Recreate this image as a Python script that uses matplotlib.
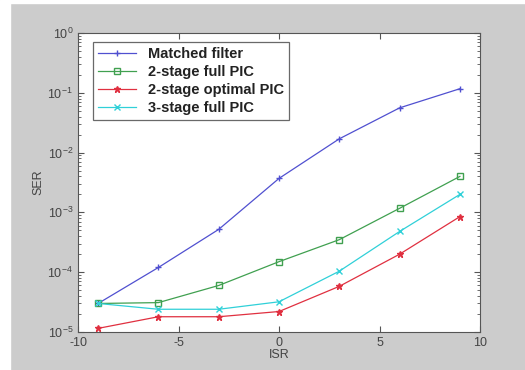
import numpy as np
import matplotlib
matplotlib.use('Agg')
import matplotlib.pyplot as plt
from matplotlib.patches import Rectangle

isr = [-9, -6, -3, 0, 3, 6, 9]
matched_filter = [3.0e-5, 1.2e-4, 5.2e-4, 3.7e-3, 1.7e-2, 5.6e-2, 1.17e-1]
full_pic_2 = [3.0e-5, 3.1e-5, 6.0e-5, 1.5e-4, 3.5e-4, 1.17e-3, 4.0e-3]
optimal_pic_2 = [1.15e-5, 1.8e-5, 1.8e-5, 2.2e-5, 5.8e-5, 2.0e-4, 8.5e-4]
full_pic_3 = [3.0e-5, 2.4e-5, 2.4e-5, 3.2e-5, 1.04e-4, 4.8e-4, 2.0e-3]

series = [
    ('Matched filter', matched_filter, '#5050d0', '+'),
    ('2-stage full PIC', full_pic_2, '#40a050', 's'),
    ('2-stage optimal PIC', optimal_pic_2, '#e03040', '*'),
    ('3-stage full PIC', full_pic_3, '#30d0d8', 'x'),
]

plt.rcParams['font.family'] = ['Liberation Sans', 'DejaVu Sans']
fig = plt.figure(figsize=(5.25, 3.7), dpi=100, facecolor='#cccccc')
# thin white border on top/left like the scanned original
fig.add_artist(Rectangle((0, 0), 10 / 525, 1, transform=fig.transFigure, color='white', zorder=-1))
fig.add_artist(Rectangle((0, 1 - 3 / 370), 1, 3 / 370, transform=fig.transFigure, color='white', zorder=-1))

ax = fig.add_axes([78 / 525, 38 / 370, 402 / 525, 299 / 370])
ax.set_facecolor('white')

for label, vals, color, marker in series:
    mfc = 'none' if marker == 's' else color
    ax.semilogy(isr, vals, color=color, marker=marker, markersize=5, linewidth=0.9,
                markerfacecolor=mfc, label=label)

ax.set_xlim(-10, 10)
ax.set_ylim(1e-5, 1e0)
ax.set_xticks([-10, -5, 0, 5, 10])
ax.set_xticklabels(['-10', '-5', '0', '5', '10'])
ax.tick_params(which='both', direction='in', top=True, right=True, colors='#555555',
               labelcolor='#444444', labelsize=9)
ax.tick_params(which='major', length=4)
ax.tick_params(which='minor', length=2)
for s in ax.spines.values():
    s.set_color('#555555')

ax.set_xlabel('ISR', fontsize=9, color='#444444', labelpad=0)
ax.set_ylabel('SER', fontsize=9, color='#444444', labelpad=2)

leg = ax.legend(loc='upper left', bbox_to_anchor=(0.037, 0.97), fontsize=10.5, frameon=True,
                fancybox=False, edgecolor='#444444', borderpad=0.35, labelspacing=0.28,
                handlelength=2.6, handletextpad=0.8, borderaxespad=0)
leg.get_frame().set_linewidth(0.9)
for t in leg.get_texts():
    t.set_fontweight('bold')
    t.set_color('#222222')

fig.savefig('out.png', dpi=100, facecolor=fig.get_facecolor())
